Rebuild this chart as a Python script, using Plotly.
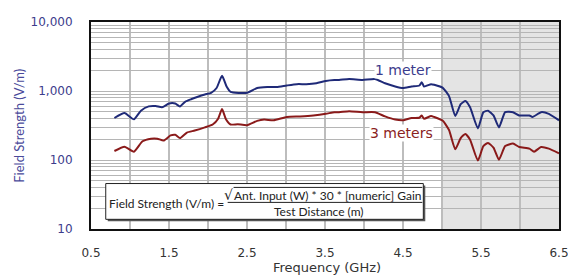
import plotly.graph_objects as go

# ---- data ----
freq_1m = [0.80, 0.93, 1.05, 1.14, 1.24, 1.33, 1.41, 1.50, 1.58, 1.64, 1.71, 1.79, 1.87, 1.96,
           2.04, 2.11, 2.18, 2.24, 2.29, 2.50, 2.63, 2.76, 2.88, 3.01, 3.14, 3.26, 3.39, 3.51,
           3.62, 3.68, 3.81, 3.98, 4.14, 4.27, 4.40, 4.50, 4.61, 4.71, 4.74, 4.77, 4.86, 4.90,
           5.01, 5.09, 5.17, 5.24, 5.30, 5.36, 5.46, 5.53, 5.59, 5.66, 5.73, 5.81, 5.91, 5.99,
           6.12, 6.16, 6.27, 6.37, 6.50]
field_1m = [406, 478, 388, 519, 598, 605, 580, 659, 659, 598, 703, 766, 827, 891,
            940, 1105, 1660, 1150, 970, 940, 1105, 1141, 1141, 1202, 1257, 1257, 1297, 1399,
            1445, 1445, 1493, 1445, 1493, 1297, 1164, 1105, 1164, 1202, 1343, 1164, 1257, 1230,
            1110, 843, 434, 644, 717, 580, 287, 493, 519, 442, 297, 493, 493, 442,
            442, 420, 493, 467, 376]

freq_3m = [0.80, 0.93, 1.05, 1.16, 1.27, 1.35, 1.43, 1.52, 1.58, 1.64, 1.73, 1.83, 1.96, 2.06,
           2.13, 2.18, 2.23, 2.29, 2.38, 2.50, 2.63, 2.72, 2.84, 3.01, 3.18, 3.35, 3.51, 3.62,
           3.68, 3.81, 3.98, 4.14, 4.27, 4.40, 4.50, 4.61, 4.71, 4.74, 4.77, 4.86, 4.90, 5.01,
           5.09, 5.17, 5.24, 5.30, 5.36, 5.46, 5.53, 5.59, 5.66, 5.73, 5.81, 5.91, 5.99, 6.12,
           6.18, 6.27, 6.37, 6.50]
field_3m = [135, 156, 132, 187, 204, 204, 191, 227, 232, 208, 250, 267, 297, 327,
            397, 548, 390, 327, 330, 320, 369, 385, 376, 420, 428, 442, 467, 493,
            493, 509, 493, 493, 428, 385, 376, 406, 410, 442, 397, 434, 420, 370,
            272, 143, 208, 239, 197, 98, 159, 177, 151, 101, 159, 173, 154, 146,
            132, 154, 146, 125]

x_ticks = [0.5, 1.5, 2.5, 3.5, 4.5, 5.5, 6.5]
x_tick_labels = ["0.5", "1.5", "2.5", "3.5", "4.5", "5.5", "6.5"]
y_decades = [10, 100, 1000, 10000]
y_decade_labels = ["10", "100", "1,000", "10,000"]
shade_range = [5.0, 6.5]

# ---- layout geometry (page pixels); the page body adds an 8 px offset ----
OFF = 8
W, H = 576 - OFF, 276 - OFF
L, R, T, B = 91, 567, 15, 229   # plot area in page pixels


def px(xp):
    return (xp - L) / (R - L)


def py(yp):
    return (B - yp) / (B - T)


y_tickvals, y_ticktext = [], []
for d, lab in zip(y_decades, y_decade_labels):
    y_tickvals.append(d)
    y_ticktext.append(lab)
    if d < y_decades[-1]:
        for m in range(2, 10):
            y_tickvals.append(d * m)
            y_ticktext.append("")

BLUE = "#1f2a78"
RED = "#8a1a1a"

fig = go.Figure()
fig.add_trace(go.Scatter(x=freq_1m, y=field_1m, mode="lines", name="1 meter",
                         line=dict(color=BLUE, width=2, shape="spline", smoothing=0.5)))
fig.add_trace(go.Scatter(x=freq_3m, y=field_3m, mode="lines", name="3 meters",
                         line=dict(color=RED, width=2, shape="spline", smoothing=0.5)))

shapes = [
    dict(type="rect", xref="x", yref="paper", x0=shade_range[0], x1=shade_range[1], y0=0, y1=1,
         fillcolor="#e4e4e4", line=dict(width=0), layer="below"),
    # formula box shadow + box
    dict(type="rect", xref="paper", yref="paper", x0=px(108), x1=px(431), y0=py(221), y1=py(184),
         fillcolor="#555555", line=dict(width=0)),
    dict(type="rect", xref="paper", yref="paper", x0=px(106), x1=px(429), y0=py(219), y1=py(182),
         fillcolor="white", line=dict(color="#222222", width=1)),
    # radical overline
    dict(type="line", xref="paper", yref="paper", x0=px(236), x1=px(428), y0=py(186), y1=py(186),
         line=dict(color="#222222", width=1)),
    # fraction bar
    dict(type="line", xref="paper", yref="paper", x0=px(230), x1=px(428), y0=py(201.5), y1=py(201.5),
         line=dict(color="#222222", width=1)),
]

FF = "Lato, 'Open Sans', sans-serif"
annotations = [
    dict(text="Field Strength (V/m) =", xref="paper", yref="paper", x=px(107), y=py(203),
         xanchor="left", yanchor="middle", showarrow=False,
         font=dict(family=FF, size=12, color="#222222")),
    dict(text="√", xref="paper", yref="paper", x=px(237), y=py(194), xanchor="right",
         yanchor="middle", showarrow=False, font=dict(family="DejaVu Sans", size=14, color="#222222")),
    dict(text="Ant. Input (W) * 30 * [numeric] Gain", xref="paper", yref="paper", x=px(332),
         y=py(194), xanchor="center", yanchor="middle", showarrow=False,
         font=dict(family=FF, size=12, color="#222222")),
    dict(text="Test Distance (m)", xref="paper", yref="paper", x=px(323), y=py(211),
         xanchor="center", yanchor="middle", showarrow=False,
         font=dict(family=FF, size=12, color="#222222")),
    dict(text="1 meter", xref="paper", yref="paper", x=px(408), y=py(65), xanchor="center",
         yanchor="middle", showarrow=False, bgcolor="white", borderpad=0,
         font=dict(family="DejaVu Sans", size=14, color="#3c3c8c")),
    dict(text="3 meters", xref="paper", yref="paper", x=px(407), y=py(130), xanchor="center",
         yanchor="middle", showarrow=False, bgcolor="white", borderpad=0,
         font=dict(family="DejaVu Sans", size=14, color="#8a2222")),
    dict(text="Field Strength (V/m)", xref="paper", yref="paper", x=px(17), y=py(122),
         xanchor="center", yanchor="middle", textangle=-90, showarrow=False,
         font=dict(family=FF, size=13, color="#4a4a9a")),
    dict(text="Frequency (GHz)", xref="paper", yref="paper", x=px(331), y=py(268.5),
         xanchor="center", yanchor="middle", showarrow=False,
         font=dict(family="DejaVu Sans", size=13, color="#333333")),
]

fig.update_layout(
    width=W, height=H,
    margin=dict(l=L - OFF, r=576 - R, t=T - OFF, b=276 - B, pad=0),
    paper_bgcolor="white", plot_bgcolor="white",
    showlegend=False,
    shapes=shapes, annotations=annotations,
    xaxis=dict(range=[0.5, 6.5], tickmode="array", tickvals=x_ticks, ticktext=x_tick_labels,
               showgrid=True, gridcolor="#bdbdbd", gridwidth=1.5,
               minor=dict(tickmode="linear", tick0=0.5, dtick=0.5, showgrid=True,
                          gridcolor="#bdbdbd", gridwidth=1.5),
               showline=True, linecolor="#111111", linewidth=2, mirror=True,
               ticks="", ticklabelstandoff=12, ticklabeloverflow="allow",
               tickfont=dict(family="DejaVu Sans", size=12, color="#333333"),
               zeroline=False),
    yaxis=dict(type="log", range=[1, 4], tickmode="array", tickvals=y_tickvals,
               ticktext=y_ticktext, showgrid=True, gridcolor="#b5b5b5", gridwidth=1,
               showline=True, linecolor="#111111", linewidth=2, mirror=True,
               ticks="", ticklabelstandoff=14,
               tickfont=dict(family="DejaVu Sans", size=12, color="#3c3c8c"),
               zeroline=False),
)

fig.write_html("out.html")
